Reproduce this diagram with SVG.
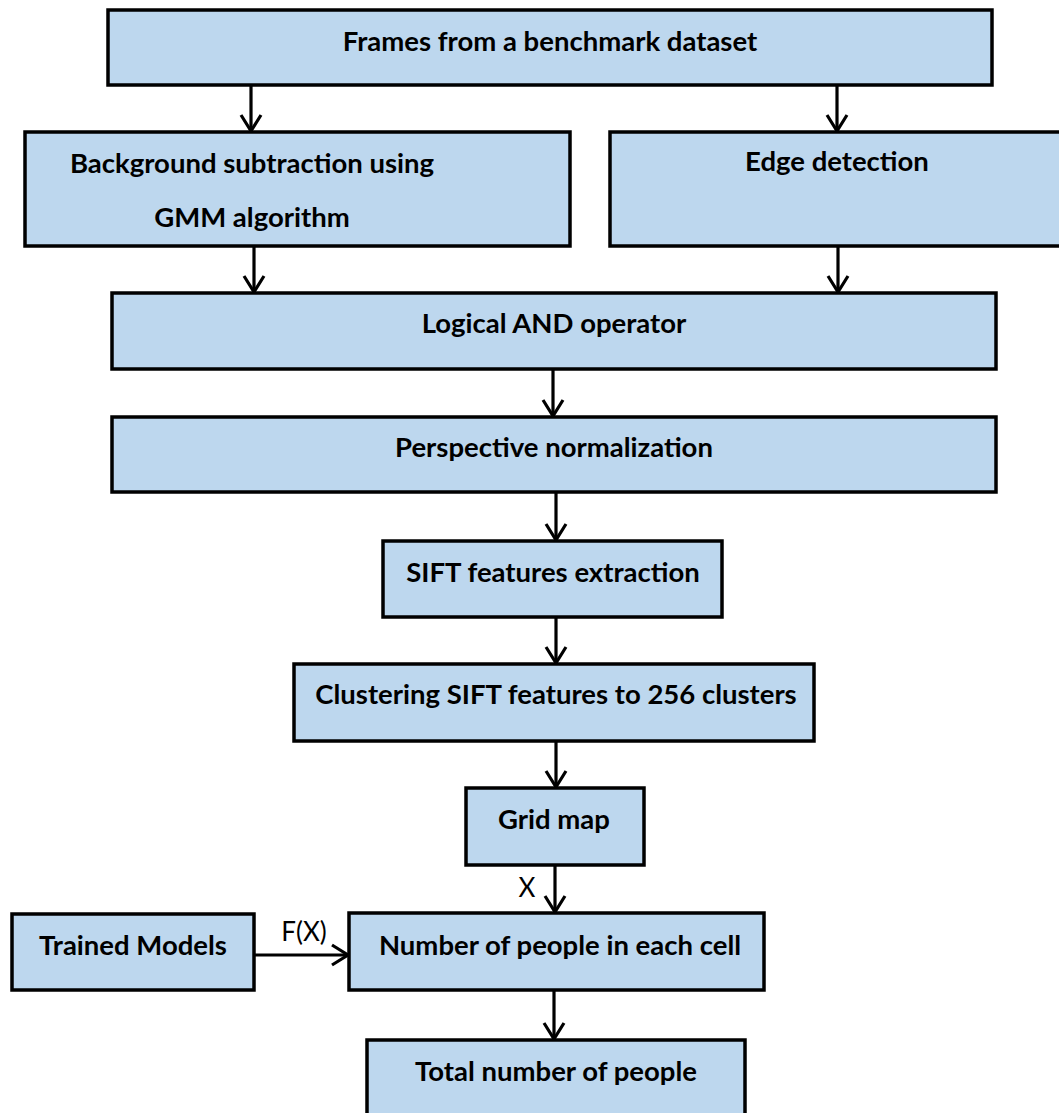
<svg xmlns="http://www.w3.org/2000/svg" width="1059" height="1113" viewBox="0 0 1059 1113">
<style>
.box{fill:#BDD7EE;stroke:#000;stroke-width:3.5}
.t{font-family:Lato,"Liberation Sans",sans-serif;font-weight:bold;font-size:27.5px;fill:#000;text-anchor:middle}
.l{font-family:Lato,"Liberation Sans",sans-serif;font-size:26px;fill:#000;text-anchor:middle}
.c{stroke:#000;stroke-width:3.2;fill:none}
</style>
<defs>
<marker id="ah" viewBox="0 0 24 24" refX="21" refY="12" markerWidth="24" markerHeight="24" markerUnits="userSpaceOnUse" orient="auto">
<path d="M5,2 L21,12 L5,22" fill="none" stroke="#000" stroke-width="3.2"/>
</marker>
</defs>
<rect width="1059" height="1113" fill="#fff"/>
<g id="connectors">
<path class="c" d="M251,85 V131" marker-end="url(#ah)"/>
<path class="c" d="M837,85 V131" marker-end="url(#ah)"/>
<path class="c" d="M254,246 V292" marker-end="url(#ah)"/>
<path class="c" d="M838,246 V292" marker-end="url(#ah)"/>
<path class="c" d="M553,369 V416" marker-end="url(#ah)"/>
<path class="c" d="M556,492 V540" marker-end="url(#ah)"/>
<path class="c" d="M556,617 V663" marker-end="url(#ah)"/>
<path class="c" d="M556,741 V787" marker-end="url(#ah)"/>
<path class="c" d="M555,865 V912" marker-end="url(#ah)"/>
<path class="c" d="M254,955 H348" marker-end="url(#ah)"/>
<path class="c" d="M554,990 V1039" marker-end="url(#ah)"/>
<text class="l" x="527" y="897">X</text>
<text class="l" x="304" y="941">F(X)</text>
</g>
<g id="n1"><rect class="box" x="108" y="10" width="884" height="75"/><text class="t" x="550" y="51">Frames from a benchmark dataset</text></g>
<g id="n2"><rect class="box" x="25" y="132" width="545" height="114"/><text class="t" x="252" y="173">Background subtraction using</text><text class="t" x="252" y="227">GMM algorithm</text></g>
<g id="n3"><rect class="box" x="610" y="132" width="460" height="114"/><text class="t" x="837" y="171">Edge detection</text></g>
<g id="n4"><rect class="box" x="112" y="293" width="884" height="76"/><text class="t" x="554" y="333">Logical AND operator</text></g>
<g id="n5"><rect class="box" x="112" y="417" width="884" height="75"/><text class="t" x="554" y="457">Perspective normalization</text></g>
<g id="n6"><rect class="box" x="383" y="541" width="339" height="76"/><text class="t" x="553" y="582">SIFT features extraction</text></g>
<g id="n7"><rect class="box" x="294" y="664" width="520" height="77"/><text class="t" x="556" y="704">Clustering SIFT features to 256 clusters</text></g>
<g id="n8"><rect class="box" x="466" y="788" width="178" height="77"/><text class="t" x="554" y="829">Grid map</text></g>
<g id="n9"><rect class="box" x="349" y="913" width="415" height="77"/><text class="t" x="560" y="955">Number of people in each cell</text></g>
<g id="n10"><rect class="box" x="12" y="914" width="242" height="76"/><text class="t" x="133" y="955">Trained Models</text></g>
<g id="n11"><rect class="box" x="367" y="1040" width="378" height="90"/><text class="t" x="556" y="1081">Total number of people</text></g>
</svg>
